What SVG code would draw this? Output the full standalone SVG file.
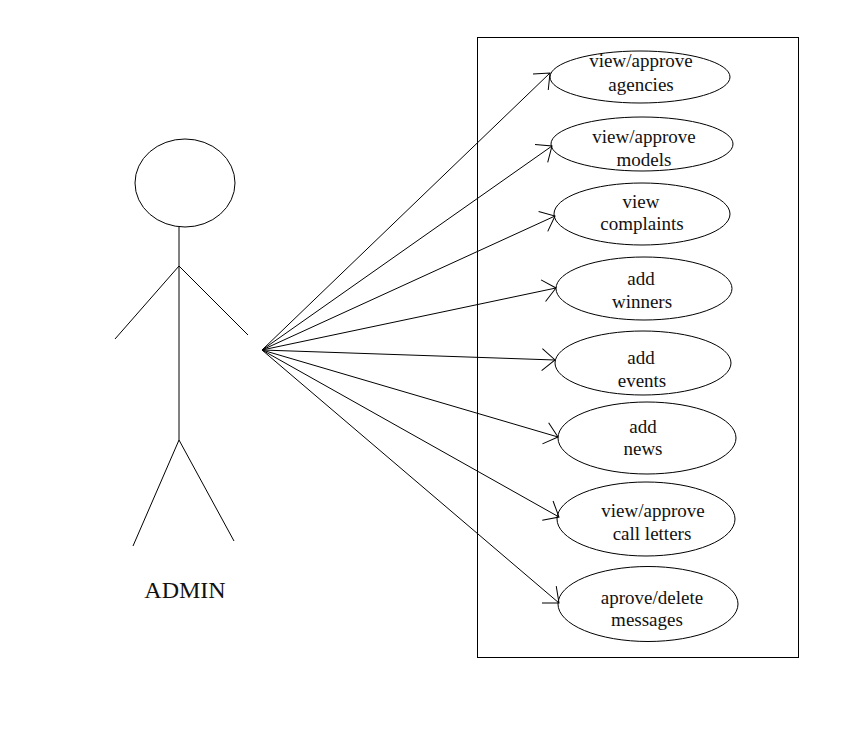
<svg xmlns="http://www.w3.org/2000/svg" width="845" height="754" viewBox="0 0 845 754">
<style>
.s{fill:none;stroke:#000;stroke-width:1}
.t{font-family:"Liberation Serif","Times New Roman",serif;font-size:19px;fill:#111;text-anchor:middle}
.a{font-family:"Liberation Serif","Times New Roman",serif;font-size:24px;fill:#111;text-anchor:middle}
</style>
<defs>
<marker id="arr" markerUnits="userSpaceOnUse" markerWidth="40" markerHeight="40" refX="0" refY="0" viewBox="-20 -20 40 40" orient="auto" overflow="visible">
<path d="M-13,-11 L0,0 L-13,11" fill="none" stroke="#000" stroke-width="1"/>
</marker>
</defs>
<rect width="845" height="754" fill="#fff"/>
<rect id="boundary" class="s" x="477.5" y="37.5" width="321" height="620"/>
<g id="actor">
<ellipse class="s" cx="185" cy="183" rx="50" ry="44"/>
<line class="s" x1="179" y1="227" x2="179" y2="440"/>
<line class="s" x1="179" y1="266" x2="115" y2="339"/>
<line class="s" x1="179" y1="266" x2="248" y2="335"/>
<line class="s" x1="179" y1="440" x2="133" y2="546"/>
<line class="s" x1="179" y1="440" x2="234" y2="541"/>
<text class="a" x="185" y="598">ADMIN</text>
</g>
<g id="connectors">
<line class="s" x1="262" y1="350" x2="550" y2="73" marker-end="url(#arr)"/>
<line class="s" x1="262" y1="350" x2="552" y2="146" marker-end="url(#arr)"/>
<line class="s" x1="262" y1="350" x2="555" y2="216" marker-end="url(#arr)"/>
<line class="s" x1="262" y1="350" x2="556" y2="288" marker-end="url(#arr)"/>
<line class="s" x1="262" y1="350" x2="555" y2="360" marker-end="url(#arr)"/>
<line class="s" x1="262" y1="350" x2="558" y2="437" marker-end="url(#arr)"/>
<line class="s" x1="262" y1="350" x2="559" y2="517" marker-end="url(#arr)"/>
<line class="s" x1="262" y1="350" x2="559" y2="603" marker-end="url(#arr)"/>
</g>
<g id="uc1">
<ellipse class="s" cx="640" cy="77" rx="90" ry="26"/>
<text class="t" x="641" y="67">view/approve</text>
<text class="t" x="641" y="91">agencies</text>
</g>
<g id="uc2">
<ellipse class="s" cx="642" cy="144" rx="91" ry="27"/>
<text class="t" x="644" y="143">view/approve</text>
<text class="t" x="644" y="166">models</text>
</g>
<g id="uc3">
<ellipse class="s" cx="642" cy="214" rx="88" ry="31"/>
<text class="t" x="641" y="208">view</text>
<text class="t" x="642" y="230">complaints</text>
</g>
<g id="uc4">
<ellipse class="s" cx="644" cy="288.5" rx="88" ry="31.5"/>
<text class="t" x="641" y="285">add</text>
<text class="t" x="642" y="308">winners</text>
</g>
<g id="uc5">
<ellipse class="s" cx="643" cy="363" rx="88" ry="32"/>
<text class="t" x="641" y="364">add</text>
<text class="t" x="642" y="387">events</text>
</g>
<g id="uc6">
<ellipse class="s" cx="647" cy="438" rx="89" ry="36"/>
<text class="t" x="643" y="433">add</text>
<text class="t" x="643" y="455">news</text>
</g>
<g id="uc7">
<ellipse class="s" cx="646" cy="519" rx="89" ry="37"/>
<text class="t" x="653" y="517">view/approve</text>
<text class="t" x="652" y="540">call letters</text>
</g>
<g id="uc8">
<ellipse class="s" cx="648" cy="604" rx="90" ry="37.5"/>
<text class="t" x="652" y="604">aprove/delete</text>
<text class="t" x="647" y="626">messages</text>
</g>
</svg>
